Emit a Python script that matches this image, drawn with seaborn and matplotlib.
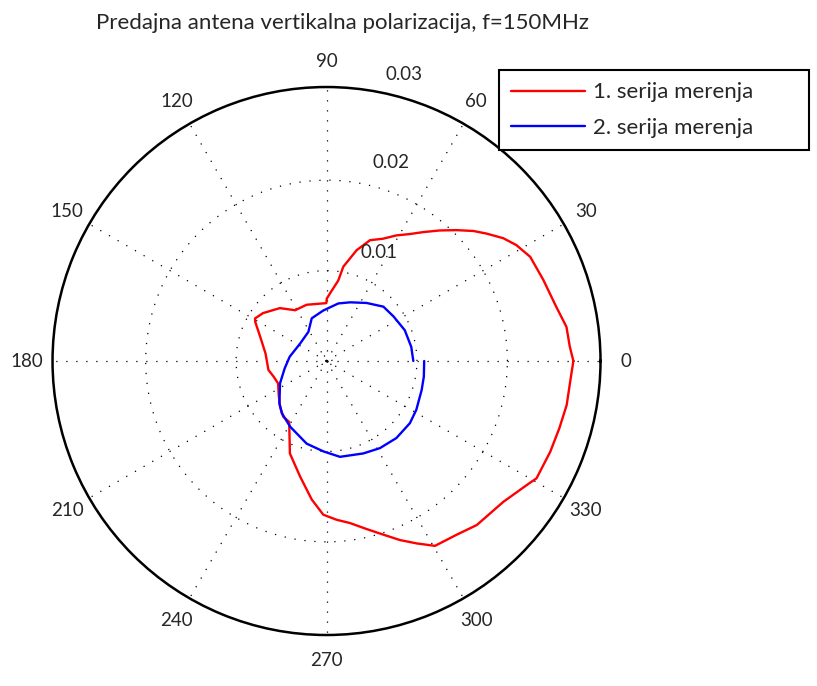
import numpy as np
import pandas as pd
import seaborn as sns
import matplotlib
matplotlib.use('Agg')
import matplotlib.pyplot as plt

TITLE = 'Predajna antena vertikalna polarizacija, f=150MHz'
SERIES_NAMES = ['1. serija merenja', '2. serija merenja']
SERIES_COLORS = ['#ff0000', '#0000ff']

# 1. serija merenja (angle in degrees, amplitude)
red_deg = [0, 3.4, 8.1, 13.3, 20.5, 27.1, 31.4, 34.8, 38.6, 41.5, 45.2, 49.1, 53.2,
           56.7, 60.9, 65.2, 70.2, 74.8, 79.9, 81.7, 87.0, 89.8, 90.2, 109.5, 121.7,
           131.4, 143.0, 149.2, 151.2, 160.0, 172.9, 188.8, 196.4, 204.8, 215.6,
           224.5, 232.2, 238.5, 248.4, 257.1, 263.9, 268.8, 273.7, 278.2, 283.4,
           288.1, 292.3, 296.3, 300.4, 306.8, 312.5, 321.5, 329.0, 330.8, 337.9,
           343.9, 349.6, 356.7, 360.0]
red_r = [0.0273, 0.02695, 0.0268, 0.0261, 0.0256, 0.0253, 0.0246, 0.0238, 0.0226,
         0.0217, 0.0204, 0.0191, 0.0178, 0.0168, 0.0159, 0.0149, 0.0142, 0.0127,
         0.0106, 0.0090, 0.0075, 0.0069, 0.0064, 0.0066, 0.0066, 0.0078, 0.0088,
         0.0092, 0.0090, 0.0078, 0.0068, 0.0065, 0.0061, 0.0059, 0.0065, 0.0072,
         0.0078, 0.0079, 0.0110, 0.0131, 0.0154, 0.0170, 0.0176, 0.0181, 0.0191,
         0.0202, 0.0214, 0.0225, 0.0237, 0.0240, 0.0246, 0.0250, 0.0262, 0.0266,
         0.0267, 0.0268, 0.0270, 0.0271, 0.0273]

# 2. serija merenja
blue_deg = [0, 9.5, 21.5, 33.6, 43.7, 55.4, 68.0, 78.4, 93.6, 109.1, 121.8, 146.3,
            173.3, 190.0, 205.6, 221.9, 229.4, 241.0, 256.5, 268.0, 278.0, 291.7,
            301.5, 312.2, 323.3, 331.5, 343.0, 350.9, 360.0]
blue_r = [0.0096, 0.0095, 0.0093, 0.0089, 0.0087, 0.0078, 0.0070, 0.0065, 0.0056,
          0.0050, 0.0038, 0.0035, 0.0041, 0.0047, 0.0057, 0.0070, 0.0076, 0.0083,
          0.0094, 0.0100, 0.0107, 0.0110, 0.0113, 0.0115, 0.0115, 0.0113, 0.0110,
          0.0109, 0.0108]

ANGLE_TICKS = list(range(0, 360, 30))
R_TICKS = [0.01, 0.02, 0.03]
R_MAX = 0.0303

sns.set_style('white')
plt.rcParams['font.family'] = ['Lato', 'DejaVu Sans']
FS_TICK = 13.5
FS_TEXT = 16

df = pd.concat([
    pd.DataFrame({'theta': np.deg2rad(red_deg), 'r': red_r, 'serija': SERIES_NAMES[0]}),
    pd.DataFrame({'theta': np.deg2rad(blue_deg), 'r': blue_r, 'serija': SERIES_NAMES[1]}),
], ignore_index=True)

fig = plt.figure(figsize=(8.17, 6.86), dpi=100)
ax = fig.add_axes([0.06426, 0.07434, 0.6708, 0.7988], projection='polar')

sns.lineplot(data=df, x='theta', y='r', hue='serija', palette=dict(zip(SERIES_NAMES, SERIES_COLORS)),
             estimator=None, sort=False, lw=1.7, ax=ax)

ax.set_rlim(0, R_MAX)
ax.set_theta_zero_location('E')
ax.set_xticks(np.deg2rad(ANGLE_TICKS))
ax.set_xticklabels([])
ax.set_yticks([0.0006] + R_TICKS[:2])
ax.set_yticklabels([])
ax.set_xlabel('')
ax.set_ylabel('')
ax.grid(True, color='black', linestyle=(0, (1, 7)), linewidth=0.9)
ax.spines['polar'].set_color('black')
ax.spines['polar'].set_linewidth(1.8)

for a in ANGLE_TICKS:
    ax.text(np.deg2rad(a), 0.0331, str(a), ha='center', va='center', fontsize=FS_TICK)

# radial labels, MATLAB style near the 80 deg spoke
r_lab_pos = [(64.3, 0.01337), (72.0, 0.02306), (74.9, 0.03285)]
for val, (ang, rr) in zip(R_TICKS, r_lab_pos):
    ax.text(np.deg2rad(ang), rr, f'{val:g}', ha='center', va='center', fontsize=FS_TICK)

fig.text(342 / 817, 1 - 23 / 686, TITLE, ha='center', va='center', fontsize=FS_TEXT)

handles, labels = ax.get_legend_handles_labels()
ax.get_legend().remove()
leg = fig.legend(handles, labels, loc='upper left',
                 bbox_to_anchor=(499 / 817, 1 - 147 / 686, 310 / 817, 77 / 686),
                 bbox_transform=fig.transFigure, mode='expand', borderaxespad=0,
                 fontsize=FS_TEXT, handlelength=3.3, handletextpad=0.35, labelspacing=0.69,
                 borderpad=0.56, fancybox=False, framealpha=1, edgecolor='black')
leg.get_frame().set_linewidth(1.5)

fig.savefig('out.png', dpi=100)
